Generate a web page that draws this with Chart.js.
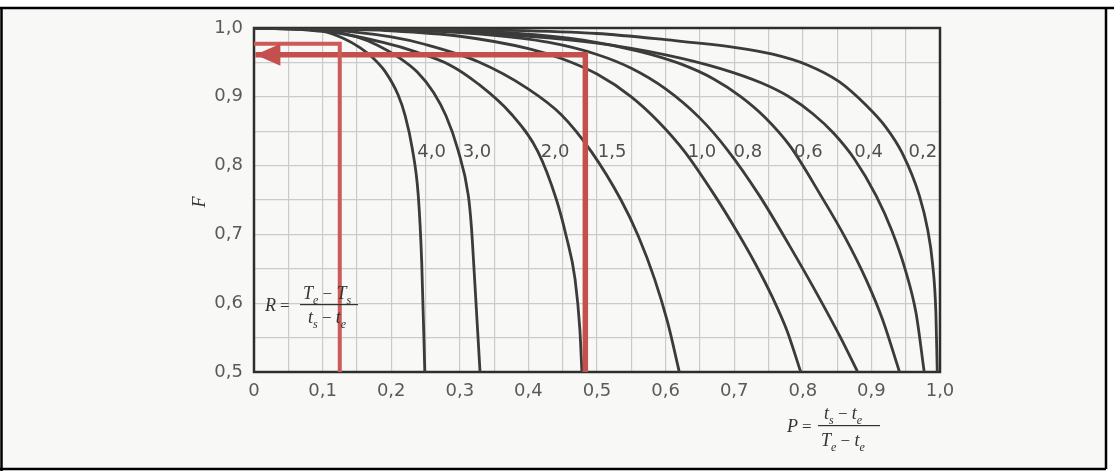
<!DOCTYPE html>
<html><head><meta charset="utf-8">
<script src="https://cdn.jsdelivr.net/npm/chart.js@4.4.0/dist/chart.umd.min.js"></script>
<style>html,body{margin:0;padding:0;background:#fff;}canvas{display:block;}</style>
</head><body>
<canvas id="c" width="1114" height="471"></canvas>
<script>
// ---- data (P, F) ----
const curveLabels = ['4,0','3,0','2,0','1,5','1,0','0,8','0,6','0,4','0,2'];
const curveR40 = [[0,1],[0.1,0.995],[0.13,0.985],[0.155,0.971],[0.174,0.956],[0.191,0.937],[0.21,0.903],[0.2205,0.872],[0.2305,0.826],[0.2395,0.756],[0.2445,0.659],[0.249,0.5]];
const curveR30 = [[0,1],[0.1,0.997],[0.15,0.987],[0.18,0.975],[0.213,0.956],[0.238,0.936],[0.262,0.906],[0.28,0.872],[0.297,0.824],[0.3125,0.756],[0.317,0.71],[0.321,0.645],[0.3295,0.5]];
const curveR20 = [[0,1],[0.1,0.996],[0.188,0.979],[0.237,0.965],[0.286,0.946],[0.3265,0.919],[0.375,0.875],[0.414,0.82],[0.441,0.75],[0.455,0.698],[0.468,0.635],[0.475,0.562],[0.478,0.5]];
const curveR15 = [[0,1],[0.1,0.998],[0.2,0.987],[0.25,0.976],[0.327,0.951],[0.399,0.912],[0.448,0.874],[0.492,0.82],[0.535,0.75],[0.56,0.698],[0.584,0.635],[0.603,0.572],[0.62,0.5]];
const curveR10 = [[0,1],[0.1,0.999],[0.2,0.996],[0.3,0.988],[0.4,0.97],[0.45,0.955],[0.5,0.933],[0.55,0.9],[0.59,0.8635],[0.628,0.82],[0.672,0.756],[0.703,0.706],[0.731,0.657],[0.756,0.608],[0.777,0.56],[0.797,0.5]];
const curveR08 = [[0,1],[0.18,0.999],[0.33,0.991],[0.43,0.979],[0.5,0.9615],[0.55,0.9415],[0.6,0.9115],[0.65,0.869],[0.69,0.823],[0.737,0.756],[0.781,0.683],[0.8205,0.614],[0.854,0.552],[0.88,0.5]];
const curveR06 = [[0,1],[0.2,0.999],[0.38,0.9925],[0.48,0.9825],[0.56,0.9665],[0.62,0.9485],[0.67,0.926],[0.71,0.9],[0.745,0.87],[0.781,0.829],[0.826,0.757],[0.862,0.695],[0.892,0.635],[0.916,0.577],[0.941,0.5]];
const curveR04 = [[0,1],[0.25,0.996],[0.4,0.988],[0.5,0.978],[0.6,0.961],[0.68,0.941],[0.74,0.92],[0.78,0.9],[0.815,0.875],[0.845,0.847],[0.875,0.81],[0.907,0.756],[0.93,0.705],[0.949,0.65],[0.965,0.586],[0.977,0.5]];
const curveR02 = [[0,1],[0.2,0.999],[0.35,0.997],[0.5,0.992],[0.6,0.983],[0.7,0.972],[0.756,0.962],[0.805,0.947],[0.853,0.922],[0.892,0.888],[0.921,0.856],[0.945,0.818],[0.97,0.756],[0.982,0.707],[0.989,0.659],[0.994,0.586],[0.996,0.5]];
const allCurves = [curveR40,curveR30,curveR20,curveR15,curveR10,curveR08,curveR06,curveR04,curveR02];
// red reading lines
const redLineA = [[0.125,0.5],[0.125,0.977],[0,0.977]];
const redLineB = [[0.483,0.5],[0.483,0.961],[0.002,0.961]];
// tick labels
const xTickLabels = ['0','0,1','0,2','0,3','0,4','0,5','0,6','0,7','0,8','0,9','1,0'];
const yTickLabels = ['0,5','0,6','0,7','0,8','0,9','1,0'];
// curve label anchor (P) at F level
const labelP = [0.259,0.325,0.439,0.522,0.653,0.720,0.808,0.896,0.975];
const labelF = 0.82;

const toXY = a => a.map(p => ({x:p[0], y:p[1]}));
const CURVE_COLOR = '#3b3b3b';
const RED = '#c4504e';
const TICK_FONT = {family:'DejaVu Sans', size:18};

const datasets = allCurves.map(c => ({
  data: toXY(c), showLine:true, borderColor:CURVE_COLOR, borderWidth:2.8,
  pointRadius:0, cubicInterpolationMode:'monotone', fill:false, order:2
}));
datasets.push({data: toXY(redLineA), showLine:true, borderColor:'#cc5a58', borderWidth:4, pointRadius:0, tension:0, borderJoinStyle:'miter', order:0});
datasets.push({data: toXY(redLineB), showLine:true, borderColor:RED, borderWidth:5.5, pointRadius:0, tension:0, borderJoinStyle:'miter', order:0});

function drawSubText(ctx, parts, x, y) {
  let cx = x;
  parts.forEach(([t, kind]) => {
    if (kind === 'sub') { ctx.font = 'italic 12px "Liberation Serif"'; ctx.fillText(t, cx, y + 5); }
    else if (kind === 'op') { ctx.font = '17px "Liberation Serif"'; ctx.fillText(t, cx, y); }
    else { ctx.font = 'italic 18px "Liberation Serif"'; ctx.fillText(t, cx, y); }
    cx += ctx.measureText(t).width;
  });
  return cx;
}

const decor = {
  id:'decor',
  beforeDraw(chart) {
    const ctx = chart.ctx;
    ctx.save();
    ctx.fillStyle = '#ffffff'; ctx.fillRect(0,0,chart.width,chart.height);
    ctx.fillStyle = '#f8f8f7'; ctx.fillRect(2,9,1103,459);
    ctx.restore();
  },
  beforeDatasetsDraw(chart) {
    const {ctx, chartArea:a} = chart;
    ctx.save();
    ctx.strokeStyle = '#2e2e2e'; ctx.lineWidth = 2.5;
    ctx.strokeRect(a.left, a.top, a.right - a.left, a.bottom - a.top);
    ctx.restore();
  },
  afterDatasetsDraw(chart) {
    const {ctx, scales:{x, y}} = chart;
    ctx.save();
    // arrow head at the tip of the reading line
    const meta = chart.getDatasetMeta(chart.data.datasets.length - 1);
    const tip = meta.data[meta.data.length - 1];
    ctx.fillStyle = RED;
    ctx.beginPath();
    ctx.moveTo(tip.x, tip.y);
    ctx.lineTo(tip.x + 25, tip.y - 11);
    ctx.lineTo(tip.x + 25, tip.y + 11);
    ctx.closePath(); ctx.fill();
    // curve labels
    ctx.fillStyle = '#505050';
    ctx.font = '18px "DejaVu Sans"';
    ctx.textAlign = 'center'; ctx.textBaseline = 'middle';
    curveLabels.forEach((t, i) => ctx.fillText(t, x.getPixelForValue(labelP[i]), y.getPixelForValue(labelF)));
    // R formula
    ctx.textAlign = 'left'; ctx.textBaseline = 'alphabetic';
    ctx.fillStyle = '#333';
    ctx.font = 'italic 18px "Liberation Serif"';
    ctx.fillText('R', 265, 311);
    ctx.font = '17px "Liberation Serif"';
    ctx.fillText('=', 280, 311);
    drawSubText(ctx, [['T'],['e','sub'],[' − ','op'],['T'],['s','sub']], 303, 299);
    ctx.fillRect(300, 304, 58, 1.2);
    drawSubText(ctx, [['t'],['s','sub'],[' − ','op'],['t'],['e','sub']], 308, 323);
    // P formula
    ctx.font = 'italic 18px "Liberation Serif"';
    ctx.fillText('P', 787, 432);
    ctx.font = '17px "Liberation Serif"';
    ctx.fillText('=', 802, 432);
    drawSubText(ctx, [['t'],['s','sub'],[' − ','op'],['t'],['e','sub']], 824, 419);
    ctx.fillRect(818, 425, 62, 1.2);
    drawSubText(ctx, [['T'],['e','sub'],[' − ','op'],['t'],['e','sub']], 821, 446);
    // axis title F
    ctx.save();
    ctx.translate(205, 202); ctx.rotate(-Math.PI/2);
    ctx.font = 'italic 18px "Liberation Serif"';
    ctx.textAlign = 'center';
    ctx.fillText('F', 0, 0);
    ctx.restore();
    ctx.restore();
  },
  afterDraw(chart) {
    const ctx = chart.ctx;
    ctx.save();
    ctx.strokeStyle = '#000'; ctx.lineWidth = 2.5;
    ctx.beginPath();
    ctx.moveTo(0, 8); ctx.lineTo(1114, 8);
    ctx.moveTo(1.5, 8); ctx.lineTo(1.5, 471);
    ctx.moveTo(1106, 8); ctx.lineTo(1106, 469);
    ctx.moveTo(0, 469); ctx.lineTo(1106, 469);
    ctx.stroke();
    ctx.restore();
  }
};

new Chart(document.getElementById('c'), {
  type:'scatter',
  data:{datasets},
  options:{
    responsive:false, animation:false, events:[],
    layout:{padding:{top:28, right:174, left:0, bottom:0}},
    plugins:{legend:{display:false}, tooltip:{enabled:false}},
    scales:{
      x:{type:'linear', min:0, max:1,
        afterFit(s){ s.height = 99; },
        border:{display:false},
        grid:{color:'#cbcbcb', lineWidth:1.2, drawTicks:false},
        ticks:{stepSize:0.05, autoSkip:false, maxRotation:0, padding:9, color:'#5a5a5a', font:TICK_FONT,
          callback(v){ const k = Math.round(v*20); return k % 2 ? '' : xTickLabels[k/2]; }}
      },
      y:{type:'linear', min:0.5, max:1,
        afterFit(s){ s.width = 254; },
        border:{display:false},
        grid:{color:'#cbcbcb', lineWidth:1.2, drawTicks:false},
        ticks:{stepSize:0.05, autoSkip:false, padding:11, color:'#5a5a5a', font:TICK_FONT,
          callback(v){ const k = Math.round((v-0.5)*20); return k % 2 ? '' : yTickLabels[k/2]; }}
      }
    }
  },
  plugins:[decor]
});
</script>
</body></html>
